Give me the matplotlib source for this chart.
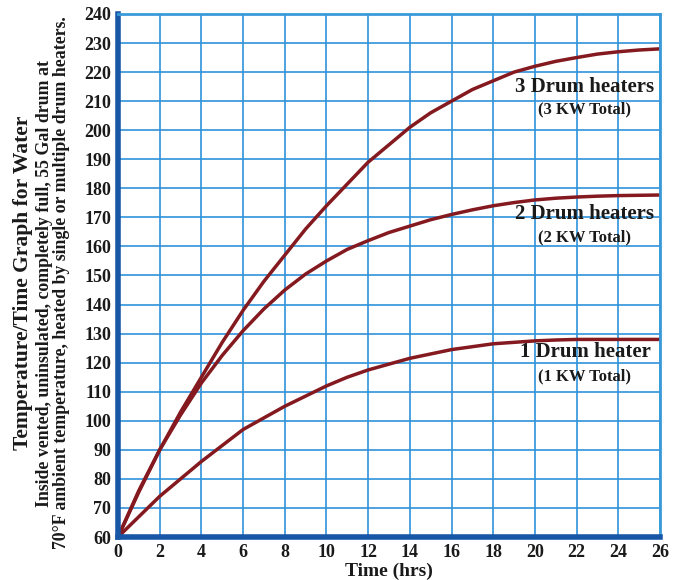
import matplotlib.pyplot as plt
import numpy as np

# time in hours, temperature in F
hours = [0, 1, 2, 3, 4, 5, 6, 7, 8, 9, 10, 11, 12, 13, 14, 15, 16, 17, 18, 19, 20, 21, 22, 23, 24, 25, 26]
one_kw = [60, 67, 74, 80, 86, 91.5, 97, 101, 105, 108.5, 112, 115, 117.5, 119.5, 121.5, 123, 124.5, 125.5, 126.5, 127, 127.5, 127.8, 128, 128, 128, 128, 128]
two_kw = [60, 76, 90, 102, 113, 122.5, 131, 138.5, 145, 150.5, 155, 159, 162, 164.8, 167, 169.2, 171, 172.6, 174, 175.1, 176, 176.6, 177, 177.3, 177.5, 177.6, 177.7]
three_kw = [60, 75.5, 90, 103, 115, 127, 138, 148, 157, 166, 174, 181.5, 189, 195, 201, 206, 210, 214, 217, 220, 222, 223.7, 225, 226.2, 227, 227.6, 228]

labels = ['3 Drum heaters', '2 Drum heaters', '1 Drum heater']
sublabels = ['(3 KW Total)', '(2 KW Total)', '(1 KW Total)']
label_y = [215, 171, 123.7]
sub_y = [207, 163, 115.4]

plt.rcParams['font.family'] = ['Liberation Serif', 'DejaVu Serif']
plt.rcParams['font.weight'] = 'bold'

fig = plt.figure(figsize=(6.79, 5.80), dpi=100)
ax = fig.add_axes([0.1738, 0.0741, 0.7982, 0.9018])

line_color = '#841a20'
for series in [one_kw, two_kw, three_kw]:
    ax.plot(hours, series, color=line_color, linewidth=2.5, solid_capstyle='round')

for lab, sub, ly, sy in zip(labels, sublabels, label_y, sub_y):
    ax.text(22.4, ly, lab, ha='center', va='center', fontsize=15, fontweight='bold', color='#1a1a1a')
    ax.text(22.4, sy, sub, ha='center', va='center', fontsize=12, fontweight='bold', color='#1a1a1a')

ax.set_xlim(0, 26)
ax.set_ylim(60, 240)
ax.set_xticks(np.arange(0, 27, 2))
ax.set_yticks(np.arange(60, 241, 10))
ax.grid(True, color='#2f92da', linewidth=1.2)
ax.tick_params(length=0, labelsize=13, pad=5, labelcolor='#1a1a1a')
for lbl in ax.get_xticklabels() + ax.get_yticklabels():
    lbl.set_fontweight('bold')

for side in ['left', 'bottom']:
    ax.spines[side].set_color('#1857a6')
    ax.spines[side].set_linewidth(4)
for side in ['top', 'right']:
    ax.spines[side].set_color('#3a9ad9')
    ax.spines[side].set_linewidth(2)

ax.set_xlabel('Time (hrs)', fontsize=14, fontweight='bold', labelpad=1, color='#1a1a1a')

fig.text(0.034, 0.512, 'Temperature/Time Graph for Water', rotation=90, ha='center', va='center',
         fontsize=15.5, fontweight='bold', color='#1a1a1a')
fig.text(0.066, 0.512, 'Inside vented, uninsulated, completely full, 55 Gal drum at',
         rotation=90, ha='center', va='center', fontsize=12.8, fontweight='bold', color='#1a1a1a')
fig.text(0.091, 0.512, '70°F ambient temperature, heated by single or multiple drum heaters.',
         rotation=90, ha='center', va='center', fontsize=12.8, fontweight='bold', color='#1a1a1a')

plt.savefig('out.png', dpi=100)
